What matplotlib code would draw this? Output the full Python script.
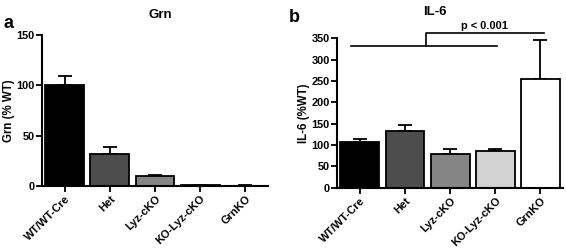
import matplotlib
matplotlib.use("Agg")
import matplotlib.pyplot as plt
import numpy as np

plt.rcParams['font.family'] = ['Liberation Sans', 'DejaVu Sans']
plt.rcParams['font.weight'] = 'bold'

categories = ["WT/WT-Cre", "Het", "Lyz-cKO", "KO-Lyz-cKO", "GrnKO"]
grn_values = [100, 32, 9.5, 1.0, 0.4]
grn_errors = [9, 7, 1.5, 0.3, 0.1]
il6_values = [106, 132, 78, 87, 255]
il6_errors = [9, 15, 12, 3, 90]
bar_colors = ["#000000", "#4d4d4d", "#858585", "#d2d2d2", "#ffffff"]
grn_yticks = [0, 50, 100, 150]
il6_yticks = [0, 50, 100, 150, 200, 250, 300, 350]

fig = plt.figure(figsize=(5.66, 2.5), dpi=100)
ax1 = fig.add_axes([0.0742, 0.256, 0.3993, 0.604])
ax2 = fig.add_axes([0.596, 0.249, 0.3987, 0.598])

FS = 7.9

def style(ax, values, errors, yticks, ylabel):
    x = np.arange(len(categories))
    ax.bar(x, values, width=0.86, color=bar_colors, edgecolor='black', linewidth=1.3, zorder=2)
    ax.errorbar(x, values, yerr=[np.zeros(len(errors)), errors], fmt='none',
                ecolor='black', elinewidth=1.3, capsize=5, capthick=1.3, zorder=1)
    ax.set_xlim(-0.5, 4.5)
    ax.set_ylim(0, yticks[-1])
    ax.set_yticks(yticks)
    ax.set_xticks(x)
    ax.set_xticklabels(categories, rotation=45, ha='right', rotation_mode='anchor',
                       fontsize=FS, fontweight='bold')
    for lbl in ax.get_yticklabels():
        lbl.set_fontsize(FS)
        lbl.set_fontweight('bold')
    ax.set_ylabel(ylabel, fontsize=FS + 0.4, fontweight='bold', labelpad=1)
    for s in ['top', 'right']:
        ax.spines[s].set_visible(False)
    for s in ['left', 'bottom']:
        ax.spines[s].set_linewidth(1.5)
    ax.tick_params(axis='both', direction='out', length=4, width=1.3, pad=1.5)

style(ax1, grn_values, grn_errors, grn_yticks, "Grn (% WT)")
style(ax2, il6_values, il6_errors, il6_yticks, "IL-6 (%WT)")

# significance bracket
ax2.plot([-0.19, 3.03], [333, 333], color='black', lw=1.2, clip_on=False)
ax2.plot([1.47, 1.47, 4.07], [333, 362, 362], color='black', lw=1.2, clip_on=False)
ax2.text(2.75, 366, "p < 0.001", ha='center', va='bottom', fontsize=FS, fontweight='bold')

fig.text(160 / 566, 1 - 15 / 250, "Grn", ha='center', va='center', fontsize=9.5, fontweight='bold')
fig.text(435 / 566, 1 - 12 / 250, "IL-6", ha='center', va='center', fontsize=9.5, fontweight='bold')
fig.text(0.006, 0.905, "a", fontsize=13, fontweight='bold', va='center')
fig.text(0.511, 0.93, "b", fontsize=13, fontweight='bold', va='center')

fig.savefig("out.png", dpi=100)
